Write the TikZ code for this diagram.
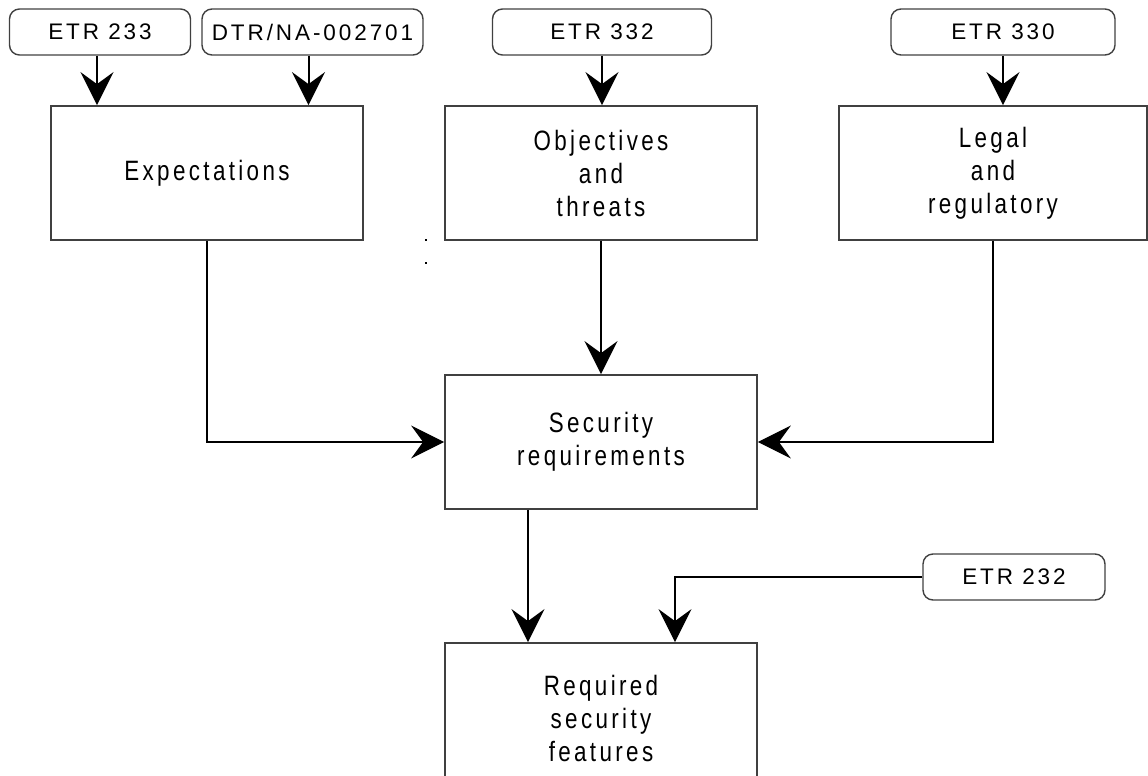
\documentclass[tikz,border=0pt]{standalone}
\usepackage{fontspec}
\setmainfont{Liberation Sans}
\newfontfamily\docfont{Liberation Sans}[LetterSpace=13]
\newfontfamily\boxfont{Liberation Sans}[FakeStretch=0.8, LetterSpace=12]
\usetikzlibrary{arrows.meta}

\begin{document}
\begin{tikzpicture}[x=1pt,y=-1pt,
  box/.style={draw=black!75, line width=1.8pt, align=center, inner sep=0pt,
    minimum width=312pt, minimum height=134pt,
    font=\boxfont\fontsize{28}{33}\selectfont},
  doc/.style={draw=black!75, line width=1.4pt, rounded corners=10pt, inner sep=0pt,
    minimum height=46pt, font=\docfont\fontsize{22.5}{27}\selectfont},
  flow/.style={line width=2pt, -{Stealth[length=33pt,width=33pt,inset=12pt]}},
  elbow/.style={line width=1.1pt, -{Stealth[length=33pt,width=33pt,inset=12pt]}}]
\useasboundingbox (0,0) rectangle (1148,776);
% sources
\node[doc, minimum width=181pt] (etr233) at (100,32) {ETR 233};
\node[doc, minimum width=221pt] (dtr) at (312.5,32) {DTR/NA-002701};
\node[doc, minimum width=219pt] (etr332) at (602,32) {ETR 332};
\node[doc, minimum width=224pt] (etr330) at (1003,32) {ETR 330};
\node[doc, minimum width=182pt] (etr232) at (1014,577) {ETR 232};
% boxes
\node[box] (expect) at (207,173) {Expectations};
\node[box] (object) at (601,173) {Objectives\\and\\threats};
\node[box, minimum width=308pt] (legal) at (993,173) {Legal\\and\\regulatory};
\node[box] (secreq) at (601,442) {Security\\requirements};
\node[box, minimum height=150pt] (reqfeat) at (601,718) {Required\\security\\features};
% arrows
\draw[flow] ([xshift=-3pt]etr233.south) coordinate (a1) -- (a1 |- expect.north);
\draw[flow] ([xshift=-4pt]dtr.south) coordinate (a2) -- (a2 |- expect.north);
\draw[flow] (etr332.south) -- (etr332.south |- object.north);
\draw[flow] (etr330.south) -- (etr330.south |- legal.north);
\draw[flow] (object.south) -- (object.south |- secreq.north);
\draw[elbow] (expect.south) |- (secreq.west);
\draw[elbow] (legal.south) |- (secreq.east);
\draw[flow] ([xshift=-73pt]secreq.south) coordinate (s1) -- (s1 |- reqfeat.north);
\draw[elbow] (etr232.west) -| ([xshift=74pt]reqfeat.north);
% stray marks
\fill (425,239) rectangle ++(2,2);
\fill (425,262) rectangle ++(2,2);
\end{tikzpicture}
\end{document}
